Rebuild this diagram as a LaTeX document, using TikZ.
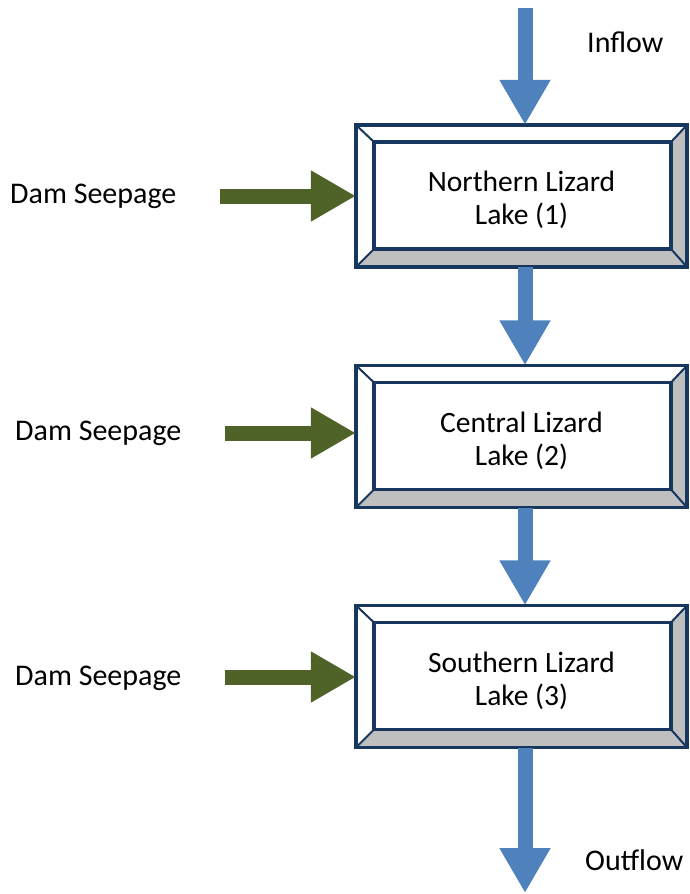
\documentclass[tikz,border=0pt]{standalone}
\usepackage{fontspec}
\setmainfont{Carlito}
\usetikzlibrary{arrows.meta}
\definecolor{navy}{HTML}{17375E}
\definecolor{bevelgray}{HTML}{BFBFBF}
\definecolor{flowblue}{HTML}{4F81BD}
\definecolor{seepgreen}{HTML}{4F6228}
\tikzset{
  lakebox/.style={minimum width=331pt, minimum height=142pt, inner sep=0pt, align=center,
    font=\fontsize{29.5}{33}\selectfont, text=black},
  lbl/.style={font=\fontsize{30}{33}\selectfont, text=black, inner sep=0pt},
  flowarrow/.style={draw=flowblue, line width=15pt, -{Triangle[width=48pt,length=45pt]}, color=flowblue},
  seeparrow/.style={draw=seepgreen, line width=15pt, -{Triangle[width=48pt,length=45pt]}, color=seepgreen},
  frame/.style={draw=navy, line width=3.5pt},
  diag/.style={draw=navy, line width=2pt}
}
\newcommand{\bevelbox}[1]{%
  \fill[white] (#1.north west) rectangle (#1.south east);
  \fill[bevelgray] (#1.north east) -- ([shift={(-16pt,-17pt)}]#1.north east) -- ([shift={(-16pt,18pt)}]#1.south east) -- (#1.south east) -- cycle;
  \fill[bevelgray] (#1.south west) -- ([shift={(18pt,18pt)}]#1.south west) -- ([shift={(-16pt,18pt)}]#1.south east) -- (#1.south east) -- cycle;
  \draw[diag] (#1.north west) -- ([shift={(18pt,-17pt)}]#1.north west);
  \draw[diag] (#1.north east) -- ([shift={(-16pt,-17pt)}]#1.north east);
  \draw[diag] (#1.south west) -- ([shift={(18pt,18pt)}]#1.south west);
  \draw[diag] (#1.south east) -- ([shift={(-16pt,18pt)}]#1.south east);
  \draw[frame] ([shift={(18pt,-17pt)}]#1.north west) rectangle ([shift={(-16pt,18pt)}]#1.south east);
  \draw[frame] (#1.north west) rectangle (#1.south east);
}
\begin{document}
\begin{tikzpicture}[x=1pt,y=-1pt]
\useasboundingbox (0,0) rectangle (689,894);
% boxes
\path (521.5,196) node[lakebox] (b1) {};
\path (521.5,436.5) node[lakebox] (b2) {};
\path (521.5,676.5) node[lakebox] (b3) {};
\bevelbox{b1}
\bevelbox{b2}
\bevelbox{b3}
\node[lakebox, draw=none, yshift=-4pt] (t1) at (b1) {Northern Lizard\\Lake (1)};
\node[lakebox, draw=none, yshift=-4pt] (t2) at (b2) {Central Lizard\\Lake (2)};
\node[lakebox, draw=none, yshift=-4pt] (t3) at (b3) {Southern Lizard\\Lake (3)};
% blue flow arrows
\coordinate (in) at (525,8);
\coordinate (out) at (525,893);
\draw[flowarrow] (in) -- (b1.north -| in);
\draw[flowarrow] (b1.south -| in) -- (b2.north -| in);
\draw[flowarrow] (b2.south -| in) -- (b3.north -| in);
\draw[flowarrow] (b3.south -| in) -- (out);
% labels
\node[lbl, anchor=west] (inl) at (587,42) {Inflow};
\node[lbl, anchor=west] (outl) at (585,860) {Outflow};
\node[lbl, anchor=west] (s1) at (10,196) {Dam Seepage};
\node[lbl, anchor=west] (s2) at (15,433) {Dam Seepage};
\node[lbl, anchor=west] (s3) at (15,678) {Dam Seepage};
% green seepage arrows
\coordinate (g1) at (220,196);
\coordinate (g2) at (225,433);
\coordinate (g3) at (225,677);
\draw[seeparrow] (g1) -- (g1 -| b1.west);
\draw[seeparrow] (g2) -- (g2 -| b2.west);
\draw[seeparrow] (g3) -- (g3 -| b3.west);
\end{tikzpicture}
\end{document}
